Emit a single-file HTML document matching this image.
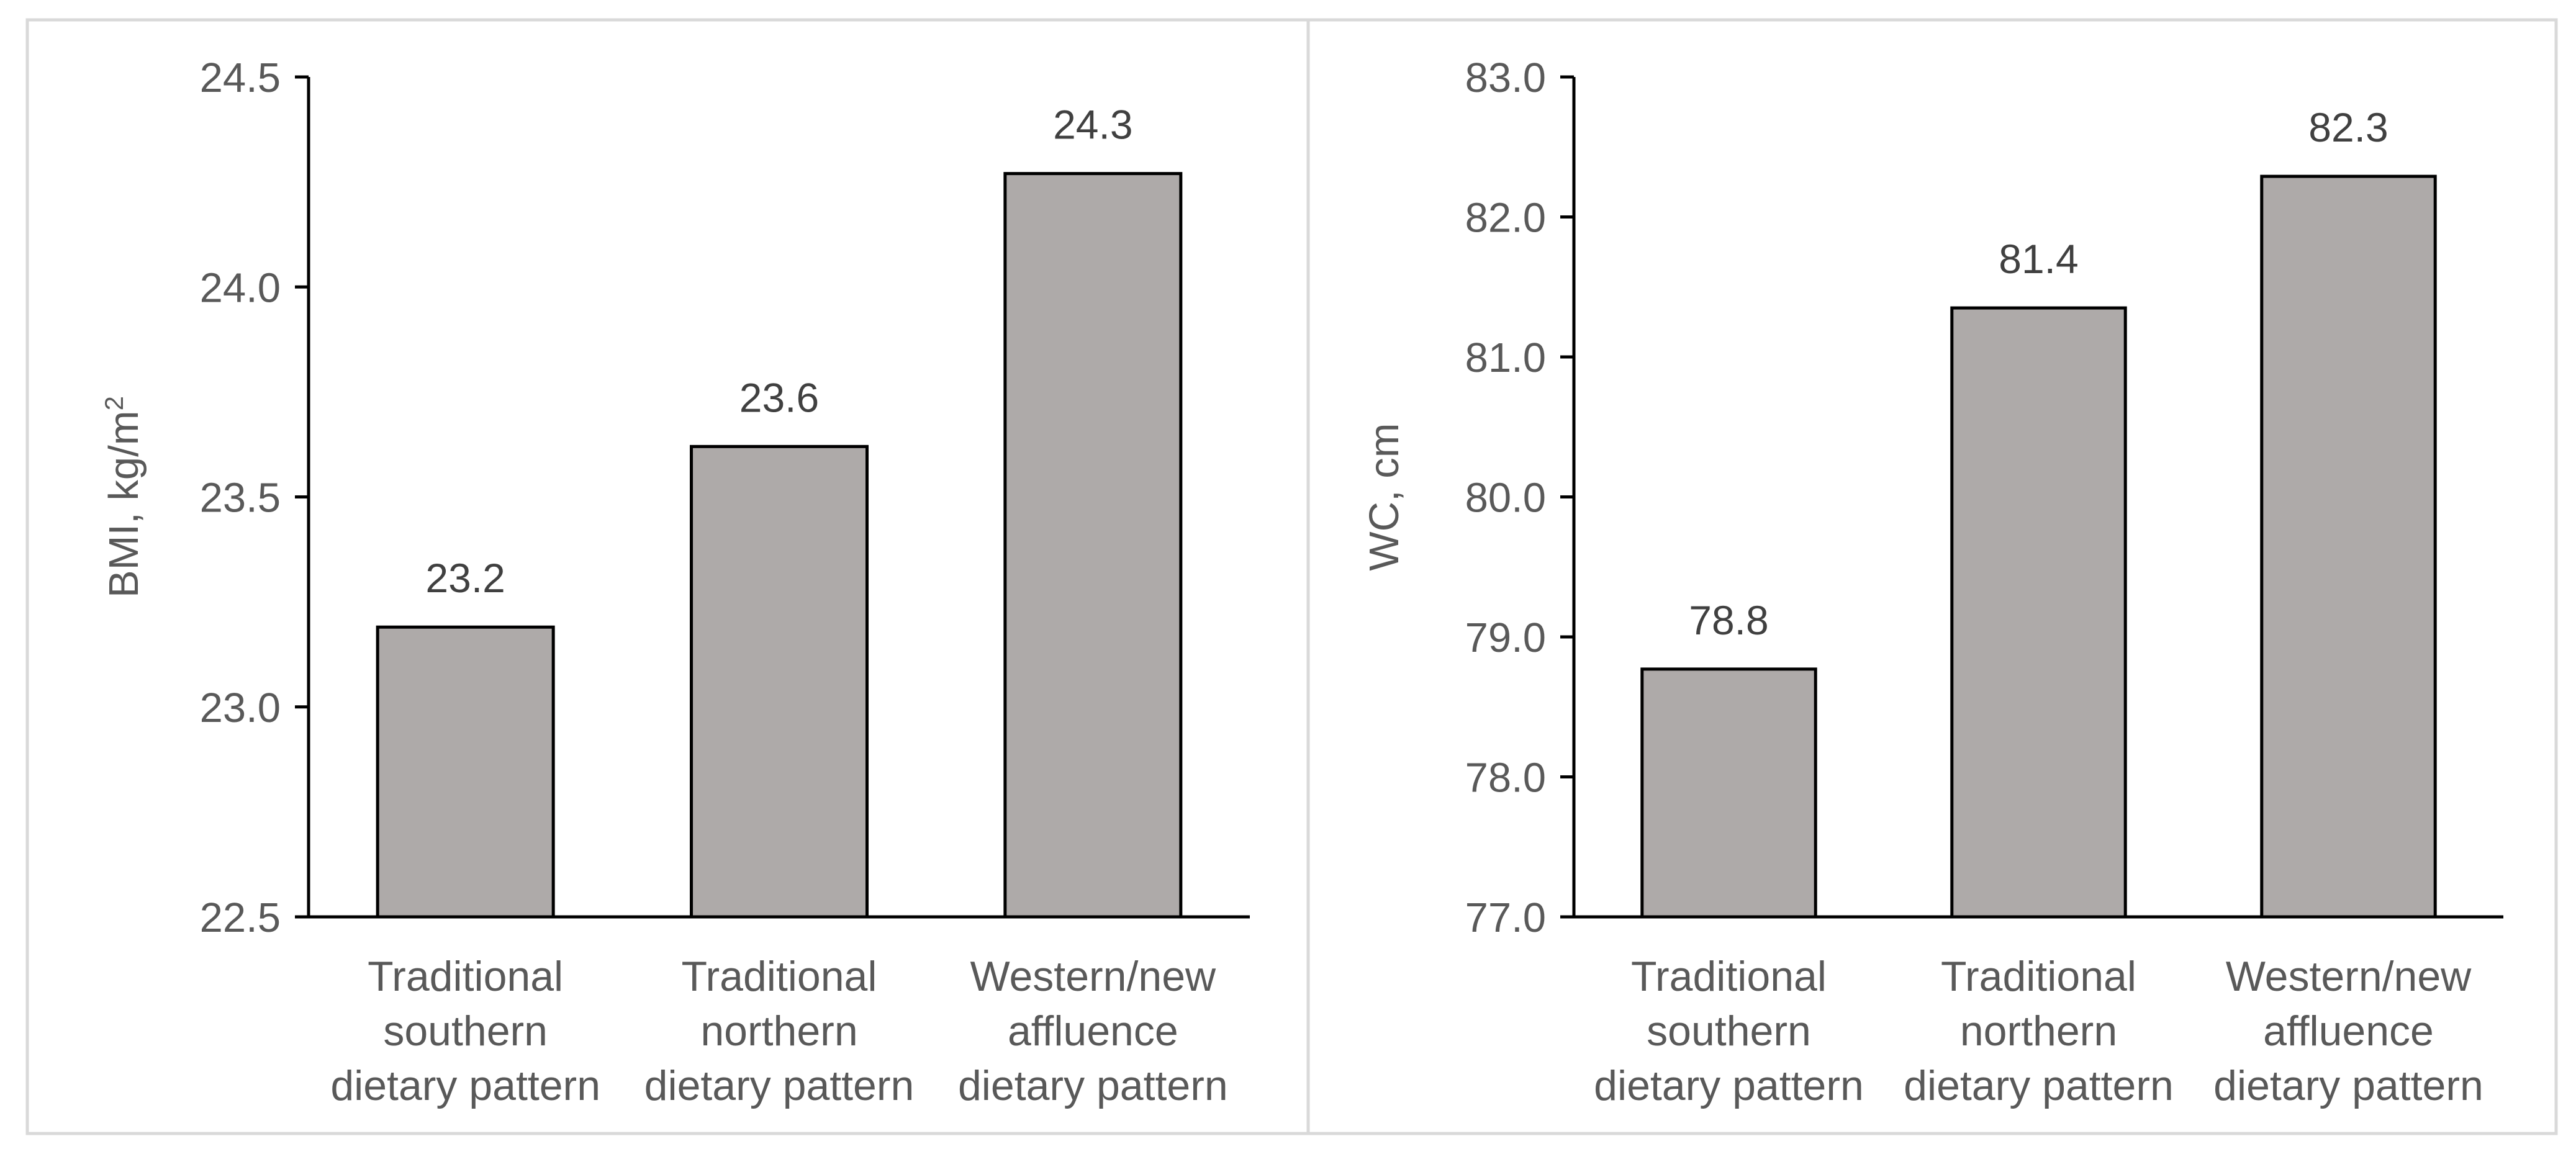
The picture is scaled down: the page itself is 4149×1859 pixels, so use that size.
<!DOCTYPE html>
<html><head><meta charset="utf-8"><style>
html,body{margin:0;padding:0;background:#fff;}
svg{display:block;font-family:"Liberation Sans",Arial,sans-serif;}
</style></head><body>
<svg id="c" width="4149" height="1859" viewBox="0 0 4149 1859">
<rect x="44" y="32" width="4073" height="1794" fill="#fff" stroke="#d9d9d9" stroke-width="5"/>
<line x1="2107" y1="32" x2="2107" y2="1826" stroke="#d9d9d9" stroke-width="5"/>
</svg>
<script>
const categories = [["Traditional","southern","dietary pattern"],["Traditional","northern","dietary pattern"],["Western/new","affluence","dietary pattern"]];
const bmiValues = [23.19, 23.62, 24.27];
const bmiLabels = ["23.2","23.6","24.3"];
const bmiTicks = [22.5, 23.0, 23.5, 24.0, 24.5];
const wcValues = [78.77, 81.35, 82.29];
const wcLabels = ["78.8","81.4","82.3"];
const wcTicks = [77.0, 78.0, 79.0, 80.0, 81.0, 82.0, 83.0];

const NS = "http://www.w3.org/2000/svg";
const svg = document.getElementById('c');
function mk(tag, attrs, parent){
  const e = document.createElementNS(NS, tag);
  for (const k in attrs) e.setAttribute(k, attrs[k]);
  (parent||svg).appendChild(e);
  return e;
}
function panel(p){
  const g = mk('g', {});
  
  
  const min = p.ticks[0], max = p.ticks[p.ticks.length-1];
  const y = v => p.bottom - (v - min) / (max - min) * (p.bottom - p.top);
  const band = (p.right - p.axisX) / p.values.length;
  const x = i => p.axisX + band * (i + 0.5);
  const bw = band * 0.56;
  p.ticks.forEach(t => {
    const tl = mk('line', {x1:p.axisX-22, x2:p.axisX, y1:y(t), y2:y(t), stroke:'#000','stroke-width':5}, g);
    
    
    const tx = mk('text', {x:p.axisX-45, y:y(t)+24, 'text-anchor':'end', 'font-size':67, fill:'#595959'}, g);
    tx.textContent = t.toFixed(1);
    
    
  });
  p.values.forEach((v, i) => {
    const r = mk('rect', {x:x(i)-bw/2, y:y(v), width:bw, height:p.bottom-y(v), fill:'#aeaaa9', stroke:'#000', 'stroke-width':5}, g);
    
    
    const lb = mk('text', {x:x(i), y:y(v)-56, 'text-anchor':'middle', 'font-size':66, fill:'#404040'}, g);
    lb.textContent = p.labels[i];
    
    
    categories[i].forEach((line, j) => {
      const c = mk('text', {x:x(i), y:1596 + j*88, 'text-anchor':'middle', 'font-size':68, fill:'#595959'}, g);
      c.textContent = line;
      
      
    });
  });
  const ax = mk('line', {x1:p.axisX, x2:p.axisX, y1:p.top, y2:p.bottom+2, stroke:'#000','stroke-width':5}, g);
  
  
  const bx = mk('line', {x1:p.axisX-22, x2:p.right, y1:p.bottom, y2:p.bottom, stroke:'#000','stroke-width':5}, g);
  
  
  const tt = mk('text', {x:p.titleX, y:(p.top+p.bottom)/2, 'text-anchor':'middle', 'font-size':67, fill:'#595959', transform:'rotate(-90 '+(p.titleX)+' '+((p.top+p.bottom)/2)+')'}, g);
  
  
  if (p.sup){
    tt.textContent = p.title;
    const s = mk('tspan', {'font-size':42, dy:-24}, tt);
    s.textContent = p.sup;
  } else tt.textContent = p.title;
}
panel({name:'bmi', values:bmiValues, labels:bmiLabels, ticks:bmiTicks, axisX:497, right:2013, top:124, bottom:1477, titleX:222, title:'BMI, kg/m', sup:'2'});
panel({name:'wc', values:wcValues, labels:wcLabels, ticks:wcTicks, axisX:2535, right:4032, top:124, bottom:1477, titleX:2252, title:'WC, cm'});
</script>
</body></html>
